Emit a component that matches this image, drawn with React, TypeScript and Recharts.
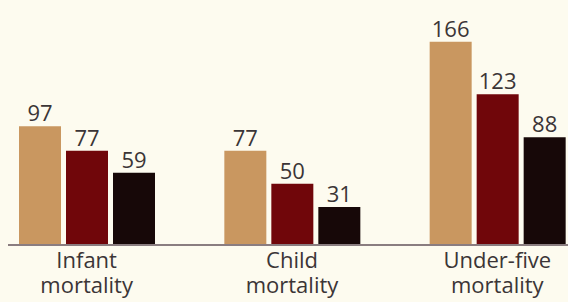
import React from "react";
import { BarChart, Bar, XAxis, YAxis, LabelList } from "recharts";

const categories = ["Infant mortality", "Child mortality", "Under-five mortality"];
const tickLine1 = ["Infant", "Child", "Under-five"];
const tickLine2 = ["mortality", "mortality", "mortality"];
const seriesA = [97, 77, 166];
const seriesB = [77, 50, 123];
const seriesC = [59, 31, 88];

const data = categories.map((c, i) => ({
  name: c,
  a: seriesA[i],
  b: seriesB[i],
  c: seriesC[i],
}));

const FONT = "'Open Sans', 'DejaVu Sans', sans-serif";
const TEXT = "#3b3536";

const Tick = (props: any) => {
  const { x, y, index } = props;
  return (
    <text x={x} y={y} textAnchor="middle" fill={TEXT} fontFamily={FONT} fontSize={22}>
      <tspan x={x} dy={15}>{tickLine1[index]}</tspan>
      <tspan x={x} dy={25}>{tickLine2[index]}</tspan>
    </text>
  );
};

const labelProps = {
  position: "top" as const,
  offset: 5,
  fill: TEXT,
  fontFamily: FONT,
  fontSize: 22,
};

export default function App() {
  return (
    <div style={{ position: "absolute", left: 0, top: 0, width: 568, height: 302, background: "#fdfbef", overflow: "hidden" }}>
      <BarChart
        width={568}
        height={302}
        data={data}
        margin={{ top: 0, right: 0, bottom: 0, left: 8 }}
        barSize={42}
        barGap={5}
      >
        <XAxis
          dataKey="name"
          height={57}
          padding={{ left: -24, right: -32 }}
          axisLine={{ stroke: "#8a7d80", strokeWidth: 2 }}
          tickLine={false}
          tick={<Tick />}
          interval={0}
        />
        <YAxis hide domain={[0, 200]} />
        <Bar dataKey="a" fill="#c99760" isAnimationActive={false}>
          <LabelList dataKey="a" {...labelProps} />
        </Bar>
        <Bar dataKey="b" fill="#70060a" isAnimationActive={false}>
          <LabelList dataKey="b" {...labelProps} />
        </Bar>
        <Bar dataKey="c" fill="#170808" isAnimationActive={false}>
          <LabelList dataKey="c" {...labelProps} />
        </Bar>
      </BarChart>
    </div>
  );
}
